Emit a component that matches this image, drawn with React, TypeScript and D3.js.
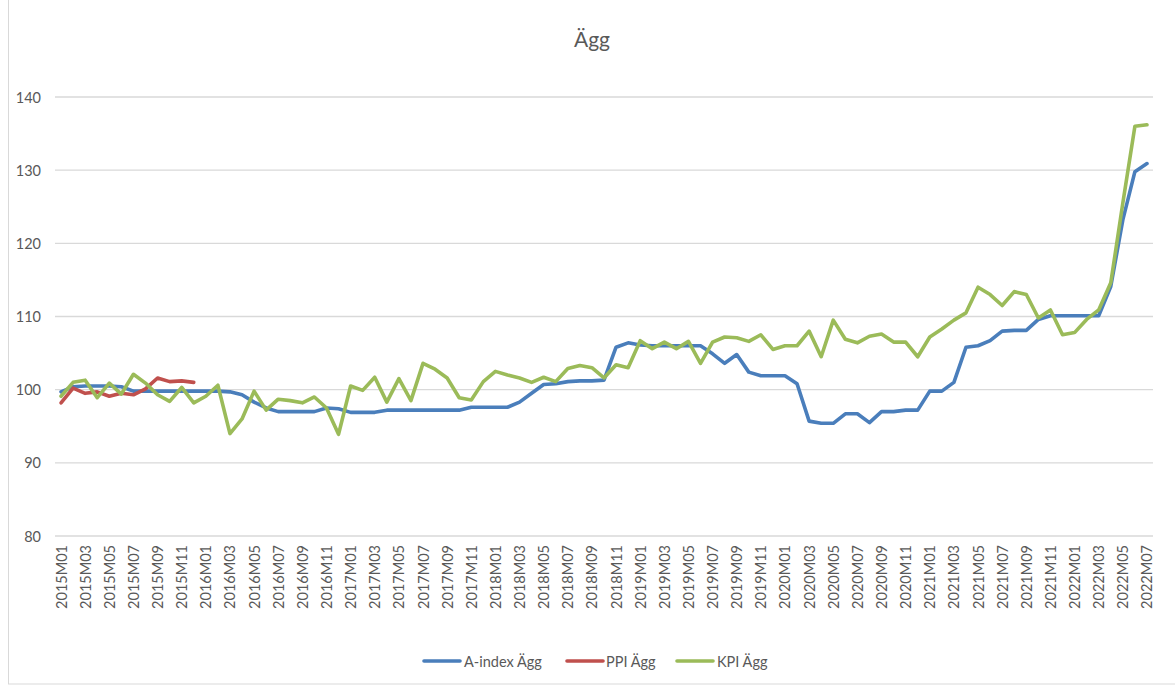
import * as d3 from "d3";

// monthly categories 2015M01 .. 2022M07
const years = [2015, 2016, 2017, 2018, 2019, 2020, 2021, 2022];
const months = ["01", "02", "03", "04", "05", "06", "07", "08", "09", "10", "11", "12"];
const categories: string[] = years
  .flatMap((y) => months.map((m) => `${y}M${m}`))
  .slice(0, 91);

const aIndex = [
  99.7, 100.4, 100.5, 100.5, 100.5, 100.4, 99.8,
  99.8, 99.8, 99.8, 99.8, 99.8, 99.8, 99.8,
  99.7, 99.3, 98.3, 97.5, 97.0, 97.0, 97.0, 97.0, 97.5, 97.4, 96.9, 96.9, 96.9,
  97.2, 97.2, 97.2, 97.2, 97.2, 97.2, 97.2,
  97.6, 97.6, 97.6, 97.6,
  98.3, 99.5, 100.7, 100.8, 101.1, 101.2, 101.2, 101.3, 105.8, 106.4,
  106.1, 106.0, 106.0, 106.0, 106.0, 106.0, 104.9, 103.6, 104.8, 102.4,
  101.9, 101.9, 101.9, 100.8, 95.7, 95.4, 95.4, 96.7, 96.7, 95.5,
  97.0, 97.0, 97.2, 97.2, 99.8, 99.8, 101.0, 105.8, 106.0, 106.7,
  108.0, 108.1, 108.1, 109.6, 110.1, 110.1, 110.1, 110.1, 110.1, 114.1,
  123.2, 129.8, 130.9,
];

const ppi = [98.2, 100.2, 99.5, 99.7, 99.1, 99.5, 99.3, 100.1, 101.6, 101.1, 101.2, 101.0];

const kpi = [
  99.1, 101.0, 101.3, 98.9, 100.9, 99.4, 102.1, 100.9, 99.3, 98.4, 100.3, 98.2,
  99.1, 100.6, 94.0, 96.0, 99.8, 97.2, 98.7, 98.5, 98.2, 99.0, 97.5, 93.9,
  100.5, 99.9, 101.7, 98.3, 101.5, 98.5, 103.6, 102.8, 101.6, 98.9, 98.6, 101.1,
  102.5, 102.0, 101.6, 101.0, 101.7, 101.1, 102.9, 103.3, 103.0, 101.6, 103.4, 103.0,
  106.7, 105.6, 106.5, 105.6, 106.6, 103.6, 106.5, 107.2, 107.1, 106.6, 107.5, 105.5,
  106.0, 106.0, 108.0, 104.5, 109.5, 106.9, 106.4, 107.3, 107.6, 106.5, 106.5, 104.5,
  107.2, 108.3, 109.5, 110.5, 114.0, 113.0, 111.5, 113.4, 113.0, 109.8, 110.9, 107.5,
  107.8, 109.6, 110.9, 114.6, 125.5, 136.0, 136.2,
];

const yTicks = [80, 90, 100, 110, 120, 130, 140];

const series = [
  { name: "A-index Ägg", values: aIndex, color: "#4a7ebb" },
  { name: "PPI Ägg", values: ppi, color: "#c0504d" },
  { name: "KPI Ägg", values: kpi, color: "#9bbb59" },
];

const W = 1175;
const H = 686;
const font = "Lato, 'Open Sans', sans-serif";
const textColor = "#595959";

export default function App() {
  const x = d3.scaleBand<string>().domain(categories).range([55, 1153]).padding(0);
  const cx = (c: string) => (x(c) ?? 0) + x.bandwidth() / 2;
  const y = d3.scaleLinear().domain([80, 140]).range([536, 97]);

  const line = d3
    .line<number>()
    .x((_, i) => cx(categories[i]))
    .y((d) => y(d));

  const tickCats = categories.filter((_, i) => i % 2 === 0);

  // legend positions
  const legendItems = [
    { lx: 424, tx: 464 },
    { lx: 567, tx: 606 },
    { lx: 677, tx: 717 },
  ];

  return (
    <svg
      width={W}
      height={H}
      style={{ position: "absolute", left: 0, top: 0, background: "#fff" }}
      fontFamily={font}
    >
      <rect x={8.5} y={-1} width={W} height={685} fill="#fff" stroke="#d9d9d9" />

      <text x={592} y={47} textAnchor="middle" fontSize={21} fill={textColor}>
        Ägg
      </text>

      {yTicks.map((t) => (
        <g key={t}>
          <line x1={55} x2={1153} y1={y(t)} y2={y(t)} stroke="#d9d9d9" strokeWidth={1.3} />
          <text
            x={41}
            y={y(t)}
            textAnchor="end"
            dominantBaseline="central"
            fontSize={14.5}
            fill={textColor}
          >
            {t}
          </text>
        </g>
      ))}

      {tickCats.map((c) => (
        <text
          key={c}
          transform={`translate(${cx(c)},545) rotate(-90)`}
          textAnchor="end"
          dominantBaseline="central"
          fontSize={14.5}
          fill={textColor}
        >
          {c}
        </text>
      ))}

      {series.map((s) => (
        <path
          key={s.name}
          d={line(s.values) ?? ""}
          fill="none"
          stroke={s.color}
          strokeWidth={3.6}
          strokeLinejoin="round"
          strokeLinecap="round"
        />
      ))}

      {series.map((s, i) => (
        <g key={s.name}>
          <line
            x1={legendItems[i].lx}
            x2={legendItems[i].lx + 36}
            y1={661}
            y2={661}
            stroke={s.color}
            strokeWidth={3.6}
            strokeLinecap="round"
          />
          <text
            x={legendItems[i].tx}
            y={661}
            dominantBaseline="central"
            fontSize={14.5}
            fill={textColor}
          >
            {s.name}
          </text>
        </g>
      ))}
    </svg>
  );
}
